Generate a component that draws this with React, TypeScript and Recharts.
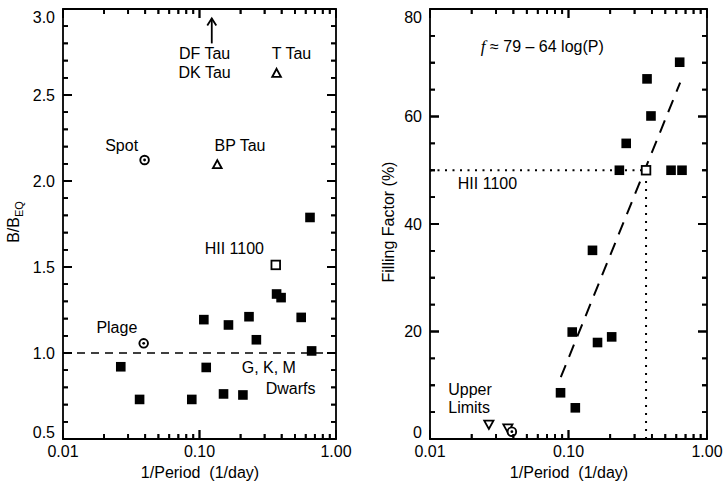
import React from 'react';
import { ScatterChart, Scatter, XAxis, YAxis, ReferenceArea, ReferenceLine } from 'recharts';

const FONT = '"Liberation Sans", Arial, Helvetica, sans-serif';
const INK = '#000000';

// ---------- shared x axis (1/Period, log) ----------
const xMajorTicks = [0.01, 0.1, 1];
const xMajorLabels = ['0.01', '0.10', '1.00'];
const xMinorTicks = [0.02, 0.03, 0.04, 0.05, 0.06, 0.07, 0.08, 0.09, 0.2, 0.3, 0.4, 0.5, 0.6, 0.7, 0.8, 0.9];

// ---------- left panel: B / B_EQ ----------
const leftYMajorTicks = [0.5, 1.0, 1.5, 2.0, 2.5, 3.0];
const leftYMajorLabels = ['0.5', '1.0', '1.5', '2.0', '2.5', '3.0'];
const leftYMinorTicks = [0.6, 0.7, 0.8, 0.9, 1.1, 1.2, 1.3, 1.4, 1.6, 1.7, 1.8, 1.9, 2.1, 2.2, 2.3, 2.4, 2.6, 2.7, 2.8, 2.9];

const dwarfFreqL = [0.0265, 0.0364, 0.0878, 0.1076, 0.112, 0.15, 0.163, 0.208, 0.2305, 0.261, 0.367, 0.396, 0.556, 0.663, 0.645];
const dwarfB = [0.92, 0.73, 0.73, 1.194, 0.916, 0.762, 1.163, 0.756, 1.211, 1.077, 1.343, 1.322, 1.207, 1.012, 1.788];
const hiiFreqL = [0.362];
const hiiB = [1.512];
const ttauFreq = [0.135, 0.367];
const ttauB = [2.095, 2.626];
const sunFreqL = [0.0396, 0.039];
const sunB = [2.122, 1.056];
const arrowFreq = [0.123];
const arrowB = [2.8];
const equipartitionB = 1.0;

const leftNoteText = ['DF Tau', 'DK Tau', 'T Tau', 'Spot', 'BP Tau', 'HII 1100', 'Plage', 'G, K, M', 'Dwarfs'];
const leftNoteFreq = [0.109, 0.109, 0.472, 0.0269, 0.198, 0.18, 0.0248, 0.322, 0.465];
const leftNoteB = [2.74, 2.63, 2.74, 2.21, 2.207, 1.61, 1.147, 0.919, 0.795];

// ---------- right panel: filling factor ----------
const rightYMajorTicks = [0, 20, 40, 60, 80];
const rightYMajorLabels = ['0', '20', '40', '60', '80'];
const rightYMinorTicks = [5, 10, 15, 25, 30, 35, 45, 50, 55, 65, 70, 75];

const dwarfFreqR = [0.635, 0.369, 0.394, 0.261, 0.233, 0.55, 0.66, 0.149, 0.1064, 0.162, 0.205, 0.0876, 0.112];
const dwarfFill = [70.1, 67.0, 60.1, 55.0, 50.0, 50.0, 50.0, 35.1, 19.9, 17.95, 19.0, 8.6, 5.8];
const hiiFreqR = [0.363];
const hiiFill = [50];
const limitFreq = [0.0266, 0.0365];
const limitFill = [2.7, 2.0];
const sunFreqR = [0.039];
const sunFill = [1.36];
const fitFreq = [0.088, 0.64];
const fitFill = [11.5, 66.3];
const hiiGuideFreq = [0.01, 0.363];
const hiiGuideFill = [0, 50];

const rightNoteText = ['HII 1100', 'Upper', 'Limits'];
const rightNoteFreq = [0.026, 0.01355, 0.01355];
const rightNoteFill = [47.6, 9.25, 5.95];
const rightNoteAnchor = ['middle', 'start', 'start'];
const formulaFreq = [0.0647];
const formulaFill = [73.0];

const zip = (xs: number[], ys: number[], extra?: (i: number) => any) =>
  xs.map((x, i) => ({ x, y: ys[i], ...(extra ? extra(i) : {}) }));
const same = (a: number, b: number) => Math.abs(a - b) < 1e-9;

// ---------- layout ----------
const LEFT_W = 360;
const RIGHT_W = 363;
const RIGHT_LEFT = 360;
const H = 488;
const PLOT_TOP = 9;
const PLOT_H = 430;
const LEFT_PLOT_X = 63;
const LEFT_PLOT_W = 273;
const RIGHT_PLOT_X = 70;
const RIGHT_PLOT_W = 277;
const MAJOR_LEN = 9;
const MINOR_LEN = 5;
const TICK_W = 1.8;

const allXTicks = [...xMajorTicks, ...xMinorTicks].sort((a, b) => a - b);
const leftAllYTicks = [...leftYMajorTicks, ...leftYMinorTicks].sort((a, b) => a - b);
const rightAllYTicks = [...rightYMajorTicks, ...rightYMinorTicks].sort((a, b) => a - b);

const leftDwarfs = zip(dwarfFreqL, dwarfB);
const leftHii = zip(hiiFreqL, hiiB);
const leftTTau = zip(ttauFreq, ttauB);
const leftSun = zip(sunFreqL, sunB);
const leftArrow = zip(arrowFreq, arrowB);
const leftNotes = zip(leftNoteFreq, leftNoteB, (i) => ({ label: leftNoteText[i] }));

const rightDwarfs = zip(dwarfFreqR, dwarfFill);
const rightHii = zip(hiiFreqR, hiiFill);
const rightLimits = zip(limitFreq, limitFill);
const rightSun = zip(sunFreqR, sunFill);
const rightNotes = zip(rightNoteFreq, rightNoteFill, (i) => ({ label: rightNoteText[i], anchor: rightNoteAnchor[i] }));
const rightFormula = zip(formulaFreq, formulaFill);

// ---------- axis tick renderers (tick marks on both sides + labels) ----------
function xAxisTick(p: any) {
  const { x, y, payload } = p;
  const mi = xMajorTicks.findIndex((m) => same(m, payload.value));
  const len = mi >= 0 ? MAJOR_LEN : MINOR_LEN;
  return (
    <g>
      <path d={`M${x},${y}V${y - len}M${x},${y - PLOT_H}V${y - PLOT_H + len}`} stroke={INK} strokeWidth={TICK_W} fill="none" />
      {mi >= 0 ? (
        <text x={x} y={y + 18} textAnchor="middle" fontFamily={FONT} fontSize={16} fill={INK}>
          {xMajorLabels[mi]}
        </text>
      ) : null}
    </g>
  );
}

function makeYAxisTick(plotW: number, majors: number[], labels: string[], lo: number, hi: number) {
  return (p: any) => {
    const { x, y, payload } = p;
    const v = payload.value;
    const mi = majors.findIndex((m) => same(m, v));
    const len = mi >= 0 ? MAJOR_LEN : MINOR_LEN;
    let dy = 5.5;
    if (same(v, hi)) dy = 13.5;
    if (same(v, lo)) dy = -1.5;
    return (
      <g>
        <path d={`M${x},${y}H${x + len}M${x + plotW},${y}H${x + plotW - len}`} stroke={INK} strokeWidth={TICK_W} fill="none" />
        {mi >= 0 ? (
          <text x={x - 8} y={y + dy} textAnchor="end" fontFamily={FONT} fontSize={16} fill={INK}>
            {labels[mi]}
          </text>
        ) : null}
      </g>
    );
  };
}
const leftYAxisTick = makeYAxisTick(LEFT_PLOT_W, leftYMajorTicks, leftYMajorLabels, 0.5, 3.0);
const rightYAxisTick = makeYAxisTick(RIGHT_PLOT_W, rightYMajorTicks, rightYMajorLabels, 0, 80);

// ---------- frame tick overlay (axis decoration on top of both panels) ----------
function frameTicks(offsetX: number, plotX: number, plotW: number, majorsY: number[], allY: number[], lo: number, hi: number) {
  const x0 = offsetX + plotX;
  const px = (v: number) => x0 + (plotW * (Math.log10(v) + 2)) / 2;
  const py = (v: number) => PLOT_TOP + PLOT_H * (1 - (v - lo) / (hi - lo));
  let d = '';
  allXTicks.forEach((v) => {
    const len = xMajorTicks.some((m) => same(m, v)) ? MAJOR_LEN : MINOR_LEN;
    const x = px(v);
    d += `M${x},${PLOT_TOP + PLOT_H}V${PLOT_TOP + PLOT_H - len}M${x},${PLOT_TOP}V${PLOT_TOP + len}`;
  });
  allY.forEach((v) => {
    const len = majorsY.some((m) => same(m, v)) ? MAJOR_LEN : MINOR_LEN;
    const y = py(v);
    d += `M${x0},${y}H${x0 + len}M${x0 + plotW},${y}H${x0 + plotW - len}`;
  });
  return d;
}
const overlayPath =
  frameTicks(0, LEFT_PLOT_X, LEFT_PLOT_W, leftYMajorTicks, leftAllYTicks, 0.5, 3.0) +
  frameTicks(RIGHT_LEFT, RIGHT_PLOT_X, RIGHT_PLOT_W, rightYMajorTicks, rightAllYTicks, 0, 80);

// ---------- marker shapes ----------
const FilledSquare = (p: any) => <rect x={p.cx - 4.8} y={p.cy - 4.8} width={9.6} height={9.6} fill={INK} />;
const OpenSquare = (p: any) => (
  <rect x={p.cx - 4.3} y={p.cy - 4.3} width={8.6} height={8.6} fill="#fff" stroke={INK} strokeWidth={1.8} />
);
const TriUp = (p: any) => (
  <path d={`M${p.cx},${p.cy - 4.5} L${p.cx + 4.3},${p.cy + 3.5} L${p.cx - 4.3},${p.cy + 3.5} Z`} fill="#fff" stroke={INK} strokeWidth={1.9} />
);
const TriDown = (p: any) => (
  <path d={`M${p.cx},${p.cy + 4.5} L${p.cx + 4.6},${p.cy - 3.8} L${p.cx - 4.6},${p.cy - 3.8} Z`} fill="#fff" stroke={INK} strokeWidth={1.8} />
);
const Sun = (p: any) => (
  <g>
    <circle cx={p.cx} cy={p.cy} r={4.3} fill="#fff" stroke={INK} strokeWidth={1.9} />
    <circle cx={p.cx} cy={p.cy} r={1.4} fill={INK} />
  </g>
);
const UpArrow = (p: any) => {
  const tip = p.cy - 25;
  return (
    <g stroke={INK} strokeWidth={1.8} fill="none">
      <line x1={p.cx} y1={p.cy} x2={p.cx} y2={tip} />
      <path d={`M${p.cx - 4.5},${tip + 7} L${p.cx},${tip} L${p.cx + 4.5},${tip + 7}`} />
    </g>
  );
};
const NoteText = (p: any) => (
  <text x={p.cx} y={p.cy} dy="0.36em" textAnchor={p.payload.anchor || 'middle'} fontFamily={FONT} fontSize={16} fill={INK} style={{ whiteSpace: 'pre' }}>
    {p.payload.label}
  </text>
);
const FormulaText = (p: any) => (
  <text x={p.cx} y={p.cy} dy="0.36em" textAnchor="middle" fontFamily={FONT} fontSize={16} fill={INK}>
    <tspan fontFamily='"Liberation Serif", "Times New Roman", serif' fontStyle="italic" fontSize={17}>f</tspan>
    <tspan> ≈ 79 – 64 log(P)</tspan>
  </text>
);

function LeftPanel() {
  return (
    <ScatterChart width={LEFT_W} height={H} margin={{ top: PLOT_TOP, right: LEFT_W - LEFT_PLOT_X - LEFT_PLOT_W, bottom: H - PLOT_TOP - PLOT_H - 30, left: LEFT_PLOT_X - 40 }}>
      <XAxis dataKey="x" type="number" scale="log" domain={[0.01, 1]} allowDataOverflow ticks={allXTicks} interval={0}
        tickSize={0} tickMargin={0} tickLine={false} axisLine={false} height={30} tick={xAxisTick} />
      <YAxis dataKey="y" type="number" domain={[0.5, 3.0]} allowDataOverflow ticks={leftAllYTicks} interval={0}
        tickSize={0} tickMargin={0} tickLine={false} axisLine={false} width={40} tick={leftYAxisTick} />
      <ReferenceArea x1={0.01} x2={1} y1={0.5} y2={3.0} fill="none" stroke={INK} strokeWidth={1.8} ifOverflow="visible" />
      <ReferenceLine y={equipartitionB} stroke={INK} strokeWidth={1.7} strokeDasharray="8 6" />
      <Scatter data={leftDwarfs} shape={FilledSquare} isAnimationActive={false} />
      <Scatter data={leftHii} shape={OpenSquare} isAnimationActive={false} />
      <Scatter data={leftTTau} shape={TriUp} isAnimationActive={false} />
      <Scatter data={leftSun} shape={Sun} isAnimationActive={false} />
      <Scatter data={leftArrow} shape={UpArrow} isAnimationActive={false} />
      <Scatter data={leftNotes} shape={NoteText} isAnimationActive={false} />
    </ScatterChart>
  );
}

function RightPanel() {
  return (
    <ScatterChart width={RIGHT_W} height={H} margin={{ top: PLOT_TOP, right: RIGHT_W - RIGHT_PLOT_X - RIGHT_PLOT_W, bottom: H - PLOT_TOP - PLOT_H - 30, left: RIGHT_PLOT_X - 40 }}>
      <XAxis dataKey="x" type="number" scale="log" domain={[0.01, 1]} allowDataOverflow ticks={allXTicks} interval={0}
        tickSize={0} tickMargin={0} tickLine={false} axisLine={false} height={30} tick={xAxisTick} />
      <YAxis dataKey="y" type="number" domain={[0, 80]} allowDataOverflow ticks={rightAllYTicks} interval={0}
        tickSize={0} tickMargin={0} tickLine={false} axisLine={false} width={40} tick={rightYAxisTick} />
      <ReferenceArea x1={0.01} x2={1} y1={0} y2={80} fill="none" stroke={INK} strokeWidth={1.8} ifOverflow="visible" />
      <ReferenceLine
        segment={[{ x: hiiGuideFreq[0], y: hiiGuideFill[1] }, { x: hiiGuideFreq[1], y: hiiGuideFill[1] }]}
        stroke={INK} strokeWidth={2} strokeDasharray="2 5.5" ifOverflow="visible"
      />
      <ReferenceLine
        segment={[{ x: hiiGuideFreq[1], y: hiiGuideFill[0] }, { x: hiiGuideFreq[1], y: hiiGuideFill[1] }]}
        stroke={INK} strokeWidth={2} strokeDasharray="2 6" ifOverflow="visible"
      />
      <ReferenceLine
        segment={[{ x: fitFreq[0], y: fitFill[0] }, { x: fitFreq[1], y: fitFill[1] }]}
        stroke={INK} strokeWidth={2} strokeDasharray="13 9" ifOverflow="visible"
      />
      <Scatter data={rightDwarfs} shape={FilledSquare} isAnimationActive={false} />
      <Scatter data={rightHii} shape={OpenSquare} isAnimationActive={false} />
      <Scatter data={rightLimits} shape={TriDown} isAnimationActive={false} />
      <Scatter data={rightSun} shape={Sun} isAnimationActive={false} />
      <Scatter data={rightNotes} shape={NoteText} isAnimationActive={false} />
      <Scatter data={rightFormula} shape={FormulaText} isAnimationActive={false} />
    </ScatterChart>
  );
}

const titleStyle: React.CSSProperties = {
  position: 'absolute',
  fontFamily: FONT,
  fontSize: 16,
  lineHeight: 1,
  whiteSpace: 'pre',
  color: INK,
  transform: 'translate(-50%, -50%)',
};
const rotStyle: React.CSSProperties = { ...titleStyle, transform: 'translate(-50%, -50%) rotate(-90deg)' };

export default function App() {
  return (
    <div style={{ position: 'absolute', left: 0, top: 0, width: 723, height: 488, background: '#fff' }}>
      <div style={{ position: 'absolute', left: 0, top: 0 }}>
        <LeftPanel />
      </div>
      <div style={{ position: 'absolute', left: RIGHT_LEFT, top: 0 }}>
        <RightPanel />
      </div>
      <svg width={723} height={488} style={{ position: 'absolute', left: 0, top: 0, pointerEvents: 'none' }}>
        <path d={overlayPath} stroke={INK} strokeWidth={TICK_W} fill="none" />
      </svg>
      <div style={{ ...titleStyle, left: 200, top: 473 }}>1/Period  (1/day)</div>
      <div style={{ ...titleStyle, left: 569, top: 473 }}>1/Period  (1/day)</div>
      <div style={{ ...rotStyle, left: 14, top: 222 }}>
        B/B<span style={{ fontSize: 11, position: 'relative', top: 4 }}>EQ</span>
      </div>
      <div style={{ ...rotStyle, left: 389, top: 222 }}>Filling Factor (%)</div>
    </div>
  );
}
